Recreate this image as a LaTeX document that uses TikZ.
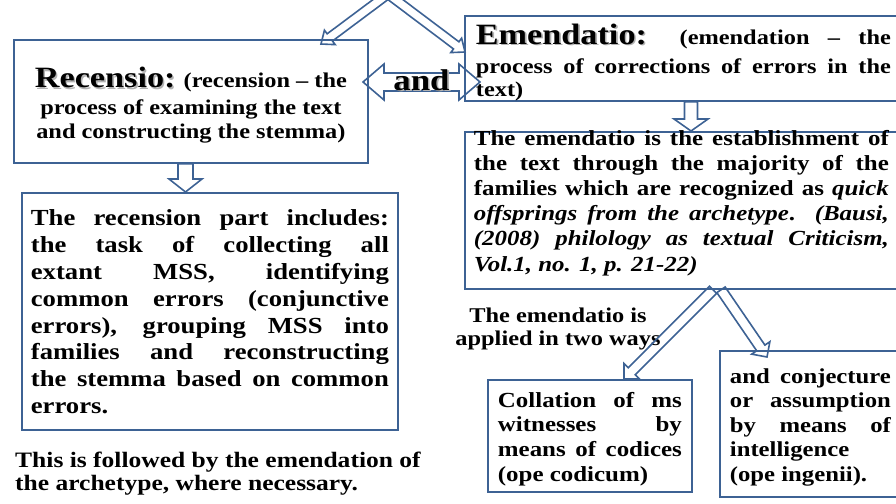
\documentclass[tikz,border=0pt]{standalone}
\usepackage{fontspec}
\setmainfont{Liberation Serif}[FakeStretch=1.16]
\usetikzlibrary{calc}
\definecolor{frame}{HTML}{3D6294}

% heading words with a soft drop shadow
\newcommand\shadowed[1]{\leavevmode\rlap{\kern1.6pt\raisebox{-1.6pt}{\textcolor{black!30}{#1}}}{#1}}

% hollow block arrow: from, to, shaft half width, head half width, head length
\newcommand\blockarrow[5]{%
  \coordinate (bh) at ($(#2)!#5!(#1)$);
  \draw[blk] ($(#1)!#3!90:(#2)$) -- ($(bh)!#3!90:(#2)$) -- ($(bh)!#4!90:(#2)$) -- (#2)
    -- ($(bh)!#4!-90:(#2)$) -- ($(bh)!#3!-90:(#2)$) -- ($(#1)!#3!-90:(#2)$) -- cycle;}

% same, with a head at both ends
\newcommand\dblarrow[5]{%
  \coordinate (bha) at ($(#1)!#5!(#2)$);
  \coordinate (bhb) at ($(#2)!#5!(#1)$);
  \draw[blk] (#1) -- ($(bha)!#4!90:(#2)$) -- ($(bha)!#3!90:(#2)$) -- ($(bhb)!#3!-90:(#1)$)
    -- ($(bhb)!#4!-90:(#1)$) -- (#2) -- ($(bhb)!#4!90:(#1)$) -- ($(bhb)!#3!90:(#1)$)
    -- ($(bha)!#3!-90:(#2)$) -- ($(bha)!#4!-90:(#2)$) -- cycle;}

\begin{document}
\begin{tikzpicture}[x=1pt, y=-1pt,
    box/.style={draw=frame, line width=1.8pt, inner ysep=0pt, inner xsep=9pt, anchor=north west, font=\bfseries},
    blk/.style={draw=frame, line width=1.6pt, line join=miter},
    note/.style={inner sep=0pt, font=\bfseries\fontsize{21}{23}\selectfont},
]
\useasboundingbox (0,0) rectangle (896,503);
\clip (0,0) rectangle (896,503);

% boxes
\node[box] (recensio) at (13,39) {\parbox[c][123pt][c]{336pt}{\centering\fontsize{21}{24}\selectfont\vspace*{8pt}%
  \shadowed{\fontsize{29.5}{30}\selectfont Recensio:} (recension – the\\[3pt]
  process of examining the text\\
  and constructing the stemma)}};

\node[box, inner xsep=11pt] (emendatio) at (464,15) {\parbox[c][85pt][t]{415pt}{\fontsize{21}{23}\selectfont\vspace*{8pt}%
  \shadowed{\fontsize{29.5}{30}\selectfont Emendatio:} (emendation – the\vadjust{\vskip6pt}\linebreak
  process of corrections of errors in the\linebreak
  text)}};

\node[box] (establish) at (464,131) {\parbox[c][157pt][t]{415pt}{\fontsize{21.5}{25.2}\selectfont\vspace*{-2pt}%
  The emendatio is the establishment of\linebreak
  the text through the majority of the\linebreak
  families which are recognized as \textit{quick}\linebreak
  \textit{offsprings from the archetype}. \textit{(Bausi,}\linebreak
  \textit{(2008) philology as textual Criticism,}\linebreak
  \textit{Vol.1, no. 1, p. 21-22)}}};

\node[box] (recpart) at (21,192) {\parbox[c][237pt][t]{358pt}{\fontsize{23}{26.8}\selectfont\vspace*{17pt}%
  The recension part includes:\linebreak
  the task of collecting all\linebreak
  extant MSS, identifying\linebreak
  common errors (conjunctive\linebreak
  errors), grouping MSS into\linebreak
  families and reconstructing\linebreak
  the stemma based on common\linebreak
  errors.}};

\node[box, inner xsep=10pt] (collation) at (487,379) {\parbox[c][112pt][t]{184pt}{\fontsize{21.5}{24.7}\selectfont\vspace*{12pt}%
  Collation of ms\linebreak
  witnesses by\linebreak
  means of codices\linebreak
  (ope codicum)}};

\node[box, inner xsep=10pt] (conjecture) at (719,350) {\parbox[c][146pt][t]{161pt}{\fontsize{21.3}{24.5}\selectfont\vspace*{17.5pt}%
  and conjecture\linebreak
  or assumption\linebreak
  by means of\linebreak
  intelligence\linebreak
  (ope ingenii).}};

% loose text
\node[note, align=center] (twoways) at (558,328.5) {The emendatio is\\applied in two ways};
\node[note, align=left, anchor=north west, font=\bfseries\fontsize{22}{23}\selectfont] (followed) at (15,452)
  {This is followed by the emendation of\\the archetype, where necessary.};

% arrows
\coordinate (apex) at (388,-6);
\coordinate (recTip) at (321,44);
\coordinate (emTip) at (465,52);
\blockarrow{apex}{recTip}{4.5pt}{9pt}{11pt}
\blockarrow{apex}{emTip}{4.5pt}{9pt}{11pt}

\coordinate (andL) at (363,82);
\coordinate (andR) at (480,82);
\dblarrow{andL}{andR}{9pt}{18pt}{21pt}
\node[note, anchor=base, font=\bfseries\fontsize{30}{30}\selectfont] (andlabel) at (421.5,90) {\shadowed{and}};

\coordinate (recOut) at ($(recensio.south west)+(172.5,0)$);
\coordinate (partIn) at ($(recpart.north west)+(164.5,0)$);
\blockarrow{recOut}{partIn}{7.5pt}{16.5pt}{13pt}

\coordinate (emOut) at ($(emendatio.south west)+(227,0)$);
\coordinate (estIn) at ($(establish.north west)+(227,0)$);
\blockarrow{emOut}{estIn}{6.5pt}{17pt}{12pt}

\coordinate (estOutL) at ($(establish.south west)+(249,0)$);
\coordinate (estOutR) at ($(establish.south west)+(257,0)$);
\coordinate (colIn) at ($(collation.north west)+(137,0)$);
\coordinate (conIn) at ($(conjecture.north west)+(48,7)$);
\blockarrow{estOutL}{colIn}{5pt}{11pt}{11pt}
\blockarrow{estOutR}{conIn}{5pt}{11pt}{11pt}
\end{tikzpicture}
\end{document}
